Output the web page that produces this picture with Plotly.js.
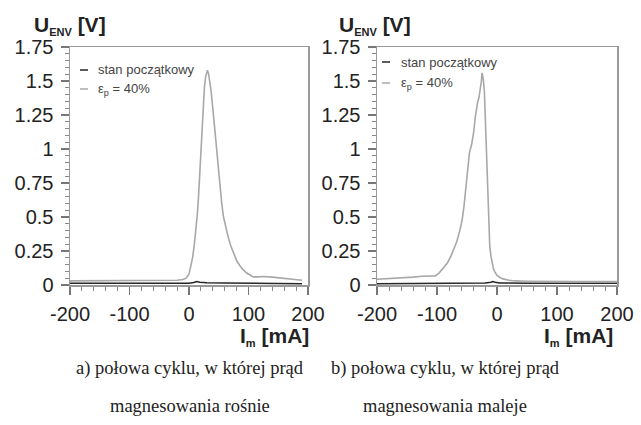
<!DOCTYPE html>
<html>
<head>
<meta charset="utf-8">
<script src="https://cdn.plot.ly/plotly-3.0.1.min.js"></script>
<style>html,body{margin:0;padding:0;background:#fff;}#chart{width:641px;height:425px;}</style>
</head>
<body>
<div id="chart"></div>
<script>
// ---- data: (a) half-cycle with rising magnetising current ----
const xA_init = [-200, -100, 0, 8, 13, 18, 30, 60, 100, 150, 190];
const yA_init = [0.012, 0.012, 0.013, 0.018, 0.025, 0.02, 0.016, 0.015, 0.013, 0.011, 0.01];
const xA_def = [-200, -160, -120, -80, -40, -20, -10, -5, 0, 3, 6, 9, 12, 14, 16, 18, 20, 22, 24, 26, 28, 30, 31, 33, 35, 37, 40, 43, 46, 49, 52, 55, 58, 62, 66, 70, 75, 80, 85, 90, 97, 103, 108, 115, 125, 140, 160, 175, 190];
const yA_def = [0.03, 0.03, 0.03, 0.03, 0.032, 0.035, 0.04, 0.05, 0.08, 0.13, 0.2, 0.3, 0.42, 0.52, 0.65, 0.82, 0.99, 1.17, 1.34, 1.46, 1.53, 1.57, 1.58, 1.55, 1.5, 1.43, 1.3, 1.15, 1.01, 0.87, 0.71, 0.6, 0.5, 0.42, 0.35, 0.29, 0.23, 0.18, 0.145, 0.117, 0.088, 0.07, 0.06, 0.06, 0.063, 0.058, 0.05, 0.043, 0.035];

// ---- data: (b) half-cycle with falling magnetising current ----
const xB_init = [-200, -100, -50, -20, -10, -7, -3, 5, 50, 100, 200];
const yB_init = [0.01, 0.012, 0.013, 0.015, 0.02, 0.025, 0.02, 0.015, 0.013, 0.012, 0.012];
const xB_def = [-200, -180, -160, -140, -125, -110, -103, -97, -90, -83, -77, -72, -67, -62, -58, -55, -50, -46, -42, -39, -36, -34, -32, -30, -28, -26, -25, -23, -21, -19.5, -18, -16.5, -15, -13.5, -12, -10, -8, -6, -4, -2, 0, 5, 10, 20, 30, 50, 100, 150, 200];
const yB_def = [0.042, 0.046, 0.05, 0.058, 0.064, 0.065, 0.067, 0.086, 0.12, 0.16, 0.21, 0.26, 0.32, 0.40, 0.48, 0.58, 0.80, 0.97, 1.04, 1.12, 1.24, 1.30, 1.35, 1.38, 1.43, 1.50, 1.56, 1.52, 1.42, 1.24, 1.02, 0.78, 0.55, 0.38, 0.28, 0.21, 0.16, 0.12, 0.10, 0.08, 0.07, 0.055, 0.045, 0.035, 0.03, 0.028, 0.025, 0.025, 0.025];

// ---- tick labels / texts ----
const xTickVals = [-200, -100, 0, 100, 200];
const xTickText = ['-200', '-100', '0', '100', '200'];
const yTickVals = [0, 0.25, 0.5, 0.75, 1, 1.25, 1.5, 1.75];
const yTickText = ['0', '0.25', '0.5', '0.75', '1', '1.25', '1.5', '1.75'];
const seriesNames = ['stan początkowy', 'ε<sub>p</sub> = 40%'];
const captionA = ['a) połowa cyklu, w której prąd', 'magnesowania rośnie'];
const captionB = ['b) połowa cyklu, w której prąd', 'magnesowania maleje'];
const yTitle = 'U<sub><span style="font-size:11px">ENV</span></sub> [V]';
const xTitle = 'I<sub><span style="font-size:11px">m</span></sub> [mA]';

const W = 641, H = 425;
const px = v => v / W;
const py = v => (H - v) / H;

const cInit = '#262626', cDef = '#a8a8a8';

const traces = [
  {x: xA_init, y: yA_init, xaxis: 'x', yaxis: 'y', mode: 'lines', line: {color: cInit, width: 1.5}, name: 'stan początkowy', showlegend: false},
  {x: xA_def, y: yA_def, xaxis: 'x', yaxis: 'y', mode: 'lines', line: {color: cDef, width: 1.6}, name: 'ε_p = 40%', showlegend: false},
  {x: xB_init, y: yB_init, xaxis: 'x2', yaxis: 'y2', mode: 'lines', line: {color: cInit, width: 1.5}, name: 'stan początkowy', showlegend: false},
  {x: xB_def, y: yB_def, xaxis: 'x2', yaxis: 'y2', mode: 'lines', line: {color: cDef, width: 1.6}, name: 'ε_p = 40%', showlegend: false}
];

const tickFont = {family: 'Liberation Sans, Arial, sans-serif', size: 20, color: '#222'};
function xAxis(dom, anchor) {
  return {
    domain: dom, anchor: anchor, range: [-200, 200], tickmode: 'array', tickvals: xTickVals, ticktext: xTickText,
    ticks: 'outside', ticklen: 8, tickwidth: 1.2, tickcolor: '#777', ticklabelstandoff: 2,
    minor: {tickmode: 'linear', tick0: 0, dtick: 20, ticks: 'outside', ticklen: 4, tickwidth: 1, tickcolor: '#888'},
    showline: true, linecolor: '#9a9a9a', linewidth: 1.5, mirror: true,
    showgrid: false, zeroline: false, tickfont: tickFont, fixedrange: true
  };
}
function yAxis(dom, anchor) {
  return {
    domain: dom, anchor: anchor, range: [0, 1.75], tickmode: 'array', tickvals: yTickVals, ticktext: yTickText,
    ticks: 'outside', ticklen: 8, tickwidth: 1.2, tickcolor: '#777', ticklabelstandoff: 3,
    minor: {tickmode: 'linear', tick0: 0, dtick: 0.05, ticks: 'outside', ticklen: 4, tickwidth: 1, tickcolor: '#888'},
    showline: true, linecolor: '#9a9a9a', linewidth: 1.5, mirror: true,
    showgrid: false, zeroline: false, tickfont: tickFont, fixedrange: true
  };
}

const titleFont = {family: 'Liberation Sans, Arial, sans-serif', size: 21, color: '#222', weight: 'bold'};
const legFont = {family: 'Liberation Sans, Arial, sans-serif', size: 13, color: '#444'};
const capFont = {family: 'Liberation Serif, Times New Roman, serif', size: 18.5, color: '#222'};

function ann(x, y, xa, text, font) {
  return {xref: 'paper', yref: 'paper', x: px(x), y: py(y), xanchor: xa, yanchor: 'middle', text: text, showarrow: false, font: font};
}

const annotations = [
  ann(32, 25, 'left', '<b>' + yTitle + '</b>', titleFont),
  ann(337, 25, 'left', '<b>' + yTitle + '</b>', titleFont),
  ann(311, 336, 'right', '<b>' + xTitle + '</b>', titleFont),
  ann(615, 336, 'right', '<b>' + xTitle + '</b>', titleFont),
  ann(96, 70, 'left', seriesNames[0], legFont),
  ann(96, 89, 'left', seriesNames[1], legFont),
  ann(399, 62, 'left', seriesNames[0], legFont),
  ann(399, 83, 'left', seriesNames[1], legFont),
  ann(190, 368, 'center', captionA[0], capFont),
  ann(190, 406, 'center', captionA[1], capFont),
  ann(445, 368, 'center', captionB[0], capFont),
  ann(445, 406, 'center', captionB[1], capFont)
];

const shapes = [
  {type: 'line', xref: 'paper', yref: 'paper', x0: px(80), x1: px(88), y0: py(70), y1: py(70), line: {color: cInit, width: 1.5}},
  {type: 'line', xref: 'paper', yref: 'paper', x0: px(80), x1: px(88), y0: py(89), y1: py(89), line: {color: cDef, width: 1.5}},
  {type: 'line', xref: 'paper', yref: 'paper', x0: px(382), x1: px(390), y0: py(62), y1: py(62), line: {color: cInit, width: 1.5}},
  {type: 'line', xref: 'paper', yref: 'paper', x0: px(382), x1: px(390), y0: py(83), y1: py(83), line: {color: cDef, width: 1.5}}
];

const layout = {
  width: W, height: H, margin: {l: 0, r: 0, t: 0, b: 0},
  paper_bgcolor: '#fff', plot_bgcolor: '#fff', showlegend: false,
  xaxis: xAxis([px(70), px(308)], 'y'),
  yaxis: yAxis([py(285), py(47)], 'x'),
  xaxis2: xAxis([px(377), px(617)], 'y2'),
  yaxis2: yAxis([py(285), py(47)], 'x2'),
  annotations: annotations, shapes: shapes
};

Plotly.newPlot('chart', traces, layout, {displayModeBar: false, staticPlot: true});
</script>
</body>
</html>
